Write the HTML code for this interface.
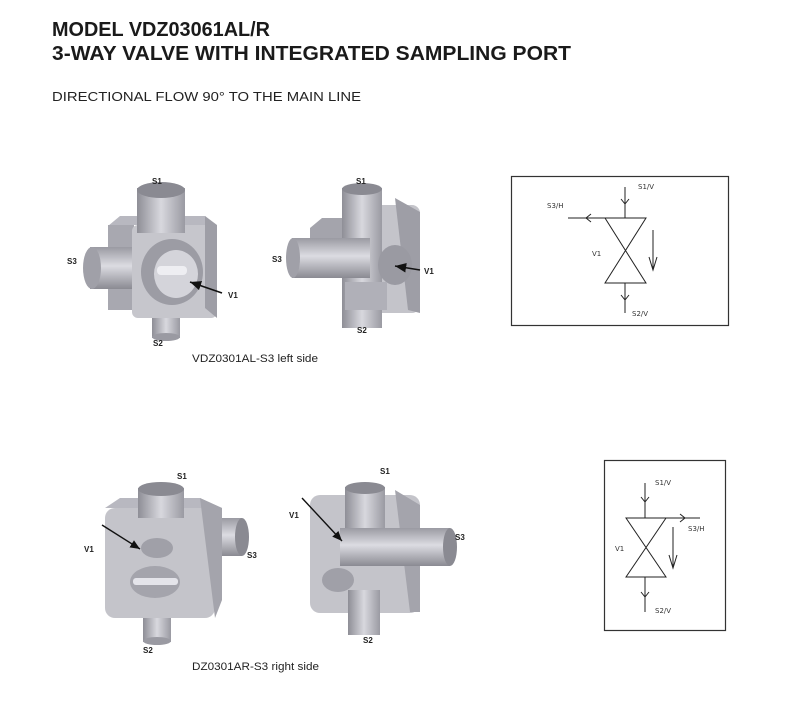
<!DOCTYPE html>
<html><head><style>
body{margin:0;background:#fff;}
svg{display:block}
.t{font-family:"Liberation Sans",Arial,sans-serif;}
.lb{font-family:"Liberation Sans",sans-serif;font-weight:bold;font-size:8px;fill:#222}
.sm{font-family:"DejaVu Sans",sans-serif;font-size:7px;fill:#333}
</style></head><body>
<svg width="788" height="713" viewBox="0 0 788 713" xmlns="http://www.w3.org/2000/svg">
<defs>
<linearGradient id="g" x1="0" y1="0" x2="1" y2="0"><stop offset="0" stop-color="#8e8e96"/><stop offset=".5" stop-color="#d8d8de"/><stop offset="1" stop-color="#9a9aa2"/></linearGradient>
<linearGradient id="gv" x1="0" y1="0" x2="0" y2="1"><stop offset="0" stop-color="#9a9aa2"/><stop offset=".45" stop-color="#dcdce2"/><stop offset="1" stop-color="#8a8a92"/></linearGradient>
<marker id="ah" markerWidth="8" markerHeight="8" refX="7" refY="4" orient="auto"><path d="M0,1 L7,4 L0,7 z" fill="#111"/></marker>
</defs>
<text class="t" x="52" y="36" font-size="20" font-weight="bold" fill="#1a1a1a" textLength="218" lengthAdjust="spacingAndGlyphs">MODEL VDZ03061AL/R</text>
<text class="t" x="52" y="60" font-size="20" font-weight="bold" fill="#1a1a1a" textLength="519" lengthAdjust="spacingAndGlyphs">3-WAY VALVE WITH INTEGRATED SAMPLING PORT</text>
<text class="t" x="52" y="101" font-size="13" fill="#222" textLength="309" lengthAdjust="spacingAndGlyphs">DIRECTIONAL FLOW 90° TO THE MAIN LINE</text>

<!-- valve 1 -->
<g>
<rect x="152" y="300" width="28" height="38" fill="url(#g)"/>
<ellipse cx="166" cy="337" rx="14" ry="4" fill="#9a9aa2"/>
<polygon points="108,226 120,216 205,216 215,225 133,225" fill="#b8b8c0"/>
<rect x="108" y="225" width="26" height="85" fill="#a8a8b0"/>
<rect x="90" y="247" width="45" height="42" fill="url(#gv)"/>
<ellipse cx="92" cy="268" rx="9" ry="21" fill="#a0a0a8"/>
<rect x="132" y="225" width="85" height="93" rx="6" fill="#c6c6cc"/>
<polygon points="205,216 217,225 217,318 205,308" fill="#9e9ea6"/>
<rect x="137" y="188" width="48" height="45" fill="url(#g)"/>
<ellipse cx="161" cy="190" rx="24" ry="8" fill="#8a8a92"/>
<ellipse cx="172" cy="272" rx="31" ry="33" fill="#9c9ca4"/>
<ellipse cx="176" cy="274" rx="22" ry="24" fill="#d4d4da"/>
<rect x="157" y="266" width="30" height="9" rx="4" fill="#eeeef2"/>
</g>
<line x1="222" y1="293" x2="190" y2="282" stroke="#111" stroke-width="1.6" marker-end="url(#ah)"/>
<text class="lb" x="152" y="184">S1</text><text class="lb" x="67" y="264">S3</text>
<text class="lb" x="228" y="298">V1</text><text class="lb" x="153" y="346">S2</text>

<!-- valve 2 -->
<g>
<polygon points="310,228 322,218 355,218 355,240 310,240" fill="#a4a4ac"/>
<rect x="355" y="205" width="65" height="108" rx="8" fill="#c4c4ca"/>
<polygon points="395,198 420,212 420,313 408,310" fill="#9e9ea6"/>
<rect x="342" y="188" width="40" height="140" fill="url(#g)"/>
<ellipse cx="362" cy="189" rx="20" ry="6" fill="#8a8a92"/>
<rect x="292" y="238" width="78" height="40" fill="url(#gv)"/>
<ellipse cx="293" cy="258" rx="7" ry="20" fill="#a0a0a8"/>
<ellipse cx="395" cy="265" rx="17" ry="20" fill="#9a9aa2"/>
<rect x="345" y="282" width="42" height="28" fill="#b0b0b8"/>
</g>
<line x1="420" y1="270" x2="395" y2="266" stroke="#111" stroke-width="1.6" marker-end="url(#ah)"/>
<text class="lb" x="356" y="184">S1</text><text class="lb" x="272" y="262">S3</text>
<text class="lb" x="424" y="274">V1</text><text class="lb" x="357" y="333">S2</text>
<text class="t" x="192" y="362" font-size="11" fill="#222" textLength="126" lengthAdjust="spacingAndGlyphs">VDZ0301AL-S3 left side</text>

<!-- schematic 1 -->
<rect x="511.5" y="176.5" width="217" height="149" fill="none" stroke="#333" stroke-width="1.2"/>
<g stroke="#222" stroke-width="1" fill="none">
<line x1="625" y1="187" x2="625" y2="218"/><polyline points="621,199 625,204 629,199"/>
<line x1="568" y1="218" x2="605" y2="218"/><polyline points="591,214 586,218 591,222"/>
<polygon points="605,218 646,218 605,283 646,283"/>
<line x1="625" y1="283" x2="625" y2="313"/><polyline points="621,295 625,300 629,295"/>
<line x1="653" y1="230" x2="653" y2="270"/><polyline points="649,257 653,270 657,257"/>
</g>
<text class="sm" x="638" y="189">S1/V</text><text class="sm" x="547" y="208">S3/H</text>
<text class="sm" x="592" y="256">V1</text><text class="sm" x="632" y="316">S2/V</text>

<!-- valve 3 -->
<g>
<rect x="143" y="600" width="28" height="42" fill="url(#g)"/>
<ellipse cx="157" cy="641" rx="14" ry="4" fill="#9a9aa2"/>
<polygon points="105,508 120,498 200,498 222,508 118,508" fill="#b8b8c0"/>
<rect x="200" y="518" width="42" height="38" fill="url(#gv)"/>
<ellipse cx="242" cy="537" rx="7" ry="19" fill="#8a8a92"/>
<rect x="105" y="508" width="110" height="110" rx="10" fill="#c4c4ca"/>
<polygon points="200,498 222,508 222,600 215,618" fill="#a4a4ac"/>
<rect x="138" y="488" width="46" height="30" fill="url(#g)"/>
<ellipse cx="161" cy="489" rx="23" ry="7" fill="#8a8a92"/>
<ellipse cx="157" cy="548" rx="16" ry="10" fill="#a0a0a8"/>
<ellipse cx="155" cy="582" rx="25" ry="16" fill="#a4a4ac"/>
<rect x="133" y="578" width="45" height="7" rx="3" fill="#e4e4ea"/>
</g>
<line x1="102" y1="525" x2="140" y2="549" stroke="#111" stroke-width="1.4" marker-end="url(#ah)"/>
<text class="lb" x="177" y="479">S1</text><text class="lb" x="84" y="552">V1</text>
<text class="lb" x="247" y="558">S3</text><text class="lb" x="143" y="653">S2</text>

<!-- valve 4 -->
<g>
<rect x="310" y="495" width="110" height="118" rx="10" fill="#c4c4ca"/>
<polygon points="395,490 420,505 420,612 410,612" fill="#a4a4ac"/>
<rect x="345" y="487" width="40" height="60" fill="url(#g)"/>
<ellipse cx="365" cy="488" rx="20" ry="6" fill="#8a8a92"/>
<rect x="340" y="528" width="110" height="38" fill="url(#gv)"/>
<ellipse cx="450" cy="547" rx="7" ry="19" fill="#8a8a92"/>
<ellipse cx="338" cy="580" rx="16" ry="12" fill="#a0a0a8"/>
<rect x="348" y="590" width="32" height="45" fill="url(#g)"/>
</g>
<line x1="302" y1="498" x2="342" y2="541" stroke="#111" stroke-width="1.4" marker-end="url(#ah)"/>
<text class="lb" x="380" y="474">S1</text><text class="lb" x="289" y="518">V1</text>
<text class="lb" x="455" y="540">S3</text><text class="lb" x="363" y="643">S2</text>
<text class="t" x="192" y="670" font-size="11" fill="#222" textLength="127" lengthAdjust="spacingAndGlyphs">DZ0301AR-S3 right side</text>

<!-- schematic 2 -->
<rect x="604.5" y="460.5" width="121" height="170" fill="none" stroke="#333" stroke-width="1.2"/>
<g stroke="#222" stroke-width="1" fill="none">
<line x1="645" y1="483" x2="645" y2="518"/><polyline points="641,497 645,502 649,497"/>
<line x1="666" y1="518" x2="700" y2="518"/><polyline points="680,514 685,518 680,522"/>
<polygon points="626,518 666,518 626,577 666,577"/>
<line x1="645" y1="577" x2="645" y2="612"/><polyline points="641,592 645,597 649,592"/>
<line x1="673" y1="527" x2="673" y2="568"/><polyline points="669,555 673,568 677,555"/>
</g>
<text class="sm" x="655" y="485">S1/V</text><text class="sm" x="688" y="531">S3/H</text>
<text class="sm" x="615" y="551">V1</text><text class="sm" x="655" y="613">S2/V</text>
</svg>
</body></html>
